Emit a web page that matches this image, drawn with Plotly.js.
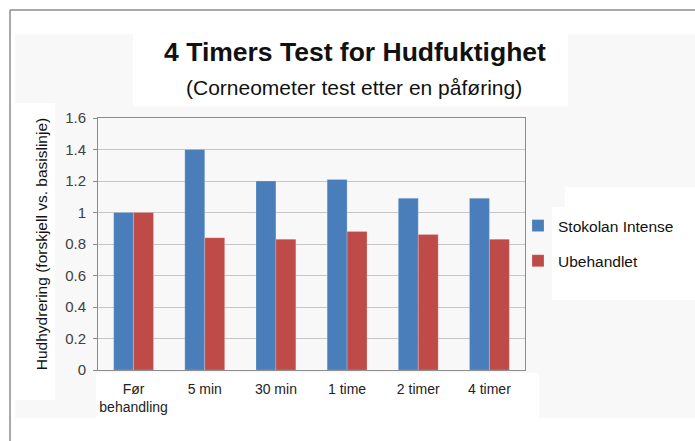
<!DOCTYPE html>
<html>
<head>
<meta charset="utf-8">
<script src="https://cdn.plot.ly/plotly-3.0.1.min.js"></script>
<style>html,body{margin:0;padding:0;background:#fff;}#chart{width:695px;height:441px;}</style>
</head>
<body>
<div id="chart"></div>
<script>
const categories = ["Før<br>behandling", "5 min", "30 min", "1 time", "2 timer", "4 timer"];
const stokolan = [1.0, 1.40, 1.20, 1.21, 1.09, 1.09];
const ubehandlet = [1.0, 0.84, 0.83, 0.88, 0.86, 0.83];
const seriesNames = ["Stokolan Intense", "Ubehandlet"];
const yTicks = [0, 0.2, 0.4, 0.6, 0.8, 1, 1.2, 1.4, 1.6];

const W = 695, H = 441;
const M = {l: 98, r: 170, t: 118, b: 71};
const pw = W - M.l - M.r, ph = H - M.t - M.b;
function px(x) { return (x - M.l) / pw; }
function py(y) { return (H - M.b - y) / ph; }
function rect(x0, y0, x1, y1, fill) {
  return {type: 'rect', xref: 'paper', yref: 'paper', layer: 'below',
    x0: px(x0), x1: px(x1), y0: py(y1), y1: py(y0), fillcolor: fill, line: {width: 0}};
}
function line(x0, y0, x1, y1) {
  return {type: 'line', xref: 'paper', yref: 'paper', layer: 'below',
    x0: px(x0), x1: px(x1), y0: py(y0), y1: py(y1), line: {color: '#8c8c8c', width: 1.5}};
}

const traces = [
  {type: 'bar', name: seriesNames[0], x: categories, y: stokolan, legendgroup: 'a',
   marker: {color: '#4a7ebb', line: {color: 'rgba(255,255,255,0.4)', width: 0.5}}},
  {type: 'bar', name: seriesNames[1], x: categories, y: ubehandlet, legendgroup: 'b',
   marker: {color: '#be4b48', line: {color: 'rgba(255,255,255,0.4)', width: 0.5}}}
];

const layout = {
  width: W, height: H,
  margin: M,
  paper_bgcolor: '#ffffff',
  plot_bgcolor: 'rgba(0,0,0,0)',
  font: {family: 'Liberation Sans, Arial, sans-serif', color: '#222'},
  barmode: 'group',
  bargap: 0.44,
  bargroupgap: 0,
  title: {
    text: '<b>4 Timers Test for Hudfuktighet</b>',
    font: {family: 'Liberation Sans, Arial, sans-serif', size: 26.5, color: '#111'},
    x: 355 / W, xanchor: 'center', xref: 'container',
    y: 1 - 52 / H, yanchor: 'middle', yref: 'container'
  },
  annotations: [{
    text: '(Corneometer test etter en påføring)',
    xref: 'paper', yref: 'paper', x: px(354), y: py(87),
    xanchor: 'center', yanchor: 'middle', showarrow: false,
    font: {family: 'Liberation Sans, Arial, sans-serif', size: 21, color: '#111'}
  }],
  xaxis: {
    type: 'category',
    showgrid: false,
    showline: true, mirror: true, linecolor: '#8c8c8c', linewidth: 1,
    ticks: '',
    ticklabelstandoff: 6,
    tickfont: {size: 14, color: '#222'},
    zeroline: false
  },
  yaxis: {
    range: [0, 1.6],
    tickvals: yTicks,
    ticktext: yTicks.map(String),
    showgrid: true, gridcolor: '#c6c6c6', gridwidth: 1,
    showline: true, mirror: true, linecolor: '#8c8c8c', linewidth: 1,
    ticks: 'outside', ticklen: 4, tickcolor: '#8c8c8c',
    ticklabelstandoff: 4,
    tickfont: {size: 15, color: '#404040'},
    zeroline: false,
    title: {text: 'Hudhydrering (forskjell vs. basislinje)', standoff: 13,
            font: {size: 15.5, color: '#111'}}
  },
  legend: {
    x: px(518), xanchor: 'left', y: py(209), yanchor: 'top',
    traceorder: 'grouped', tracegroupgap: 12,
    bgcolor: 'rgba(0,0,0,0)',
    font: {size: 15.5, color: '#111'}
  },
  shapes: [
    rect(15, 34, 695, 418, '#f8f8f8'),
    rect(133, 34, 568, 106, '#ffffff'),
    rect(15, 103, 55, 400, '#ffffff'),
    rect(96, 373, 539, 418, '#ffffff'),
    rect(565, 187, 695, 300, '#ffffff'),
    rect(552, 207, 695, 300, '#ffffff'),
    line(10, 10, 695, 10),
    line(10, 10, 10, 441)
  ],
  showlegend: true
};

Plotly.newPlot('chart', traces, layout, {displayModeBar: false, staticPlot: true});
</script>
</body>
</html>
